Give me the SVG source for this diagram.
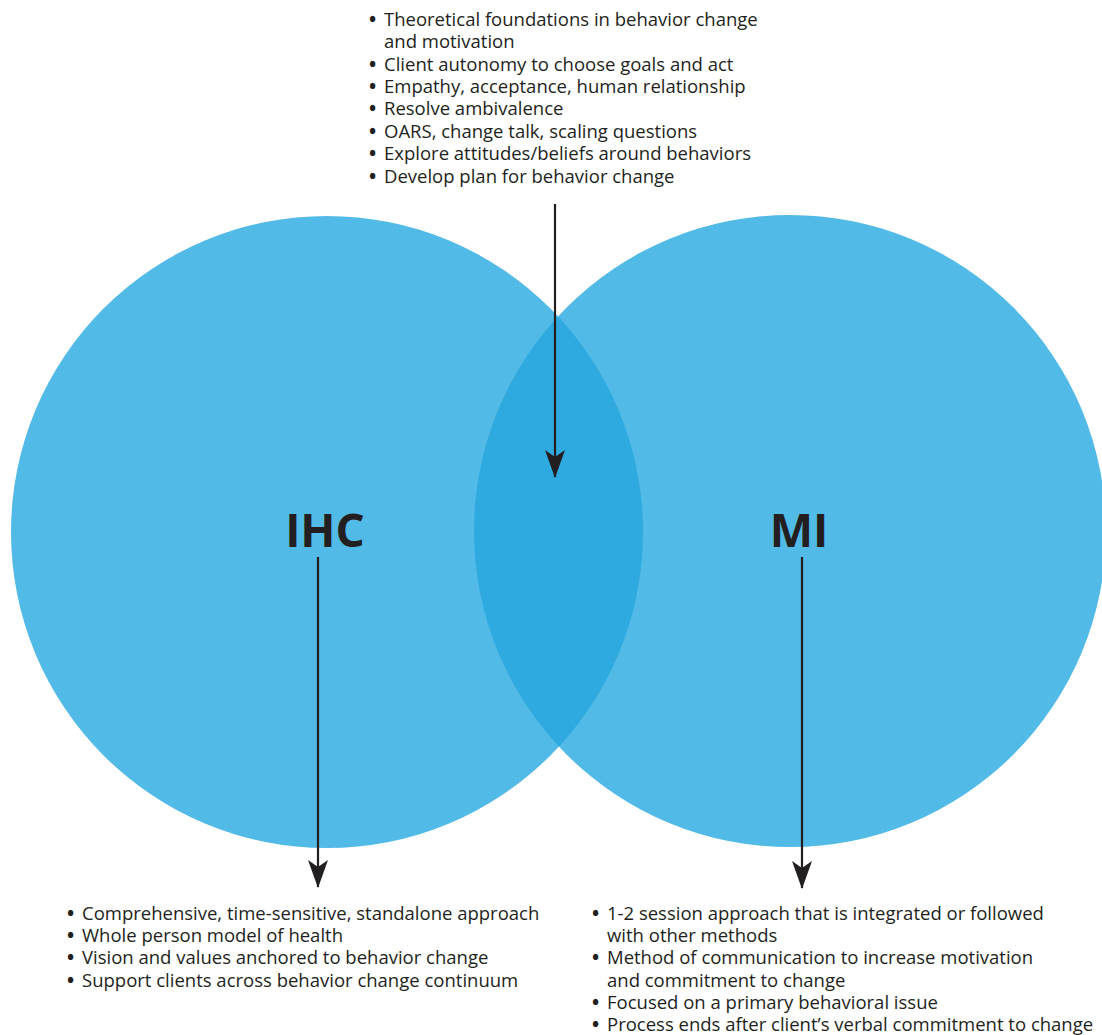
<svg xmlns="http://www.w3.org/2000/svg" width="1102" height="1035" viewBox="0 0 1102 1035">
<style>
.t{font-family:"Open Sans","Noto Sans","Liberation Sans",sans-serif;font-size:18.5px;fill:#231f20}
.b{font-size:19px;font-weight:bold}
.h{font-family:"Open Sans","Noto Sans","Liberation Sans",sans-serif;font-size:46px;font-weight:bold;fill:#231f20;text-anchor:middle}
.c{stroke:#231f20;stroke-width:2.2;fill:none}
</style>
<defs>
<clipPath id="clipL"><circle cx="327" cy="532" r="316"/></clipPath>
<marker id="arr" viewBox="0 0 28 20" refX="27" refY="10" markerWidth="28" markerHeight="20" markerUnits="userSpaceOnUse" orient="auto">
<path d="M0,0 L7,10 L0,20 L28,10 Z" fill="#231f20"/>
</marker>
</defs>
<g id="circle-ihc"><circle cx="327" cy="532" r="316" fill="#52bae6"/></g>
<g id="circle-mi"><circle cx="790" cy="531" r="316" fill="#52bae6"/></g>
<g id="overlap"><circle cx="790" cy="531" r="316" fill="#2eaae0" clip-path="url(#clipL)"/></g>
<g id="label-ihc"><text class="h" x="325" y="547">IHC</text></g>
<g id="label-mi"><text class="h" x="799" y="547">MI</text></g>
<g id="connectors">
<path class="c" d="M555,204 V477" marker-end="url(#arr)"/>
<path class="c" d="M318,557 V887" marker-end="url(#arr)"/>
<path class="c" d="M802,557 V888" marker-end="url(#arr)"/>
</g>
<g id="shared-list">
<text class="t" x="369" y="26"><tspan class="b">•</tspan><tspan x="384">Theoretical foundations in behavior change</tspan></text>
<text class="t" x="384" y="48">and motivation</text>
<text class="t" x="369" y="71"><tspan class="b">•</tspan><tspan x="384">Client autonomy to choose goals and act</tspan></text>
<text class="t" x="369" y="93"><tspan class="b">•</tspan><tspan x="384">Empathy, acceptance, human relationship</tspan></text>
<text class="t" x="369" y="115"><tspan class="b">•</tspan><tspan x="384">Resolve ambivalence</tspan></text>
<text class="t" x="369" y="138"><tspan class="b">•</tspan><tspan x="384">OARS, change talk, scaling questions</tspan></text>
<text class="t" x="369" y="160"><tspan class="b">•</tspan><tspan x="384">Explore attitudes/beliefs around behaviors</tspan></text>
<text class="t" x="369" y="183"><tspan class="b">•</tspan><tspan x="384">Develop plan for behavior change</tspan></text>
</g>
<g id="ihc-list">
<text class="t" x="67" y="920"><tspan class="b">•</tspan><tspan x="82">Comprehensive, time-sensitive, standalone approach</tspan></text>
<text class="t" x="67" y="942"><tspan class="b">•</tspan><tspan x="82">Whole person model of health</tspan></text>
<text class="t" x="67" y="964"><tspan class="b">•</tspan><tspan x="82">Vision and values anchored to behavior change</tspan></text>
<text class="t" x="67" y="987"><tspan class="b">•</tspan><tspan x="82">Support clients across behavior change continuum</tspan></text>
</g>
<g id="mi-list">
<text class="t" x="592" y="920"><tspan class="b">•</tspan><tspan x="607">1-2 session approach that is integrated or followed</tspan></text>
<text class="t" x="607" y="942">with other methods</text>
<text class="t" x="592" y="964"><tspan class="b">•</tspan><tspan x="607">Method of communication to increase motivation</tspan></text>
<text class="t" x="607" y="987">and commitment to change</text>
<text class="t" x="592" y="1009"><tspan class="b">•</tspan><tspan x="607">Focused on a primary behavioral issue</tspan></text>
<text class="t" x="592" y="1031"><tspan class="b">•</tspan><tspan x="607">Process ends after client’s verbal commitment to change</tspan></text>
</g>
</svg>
